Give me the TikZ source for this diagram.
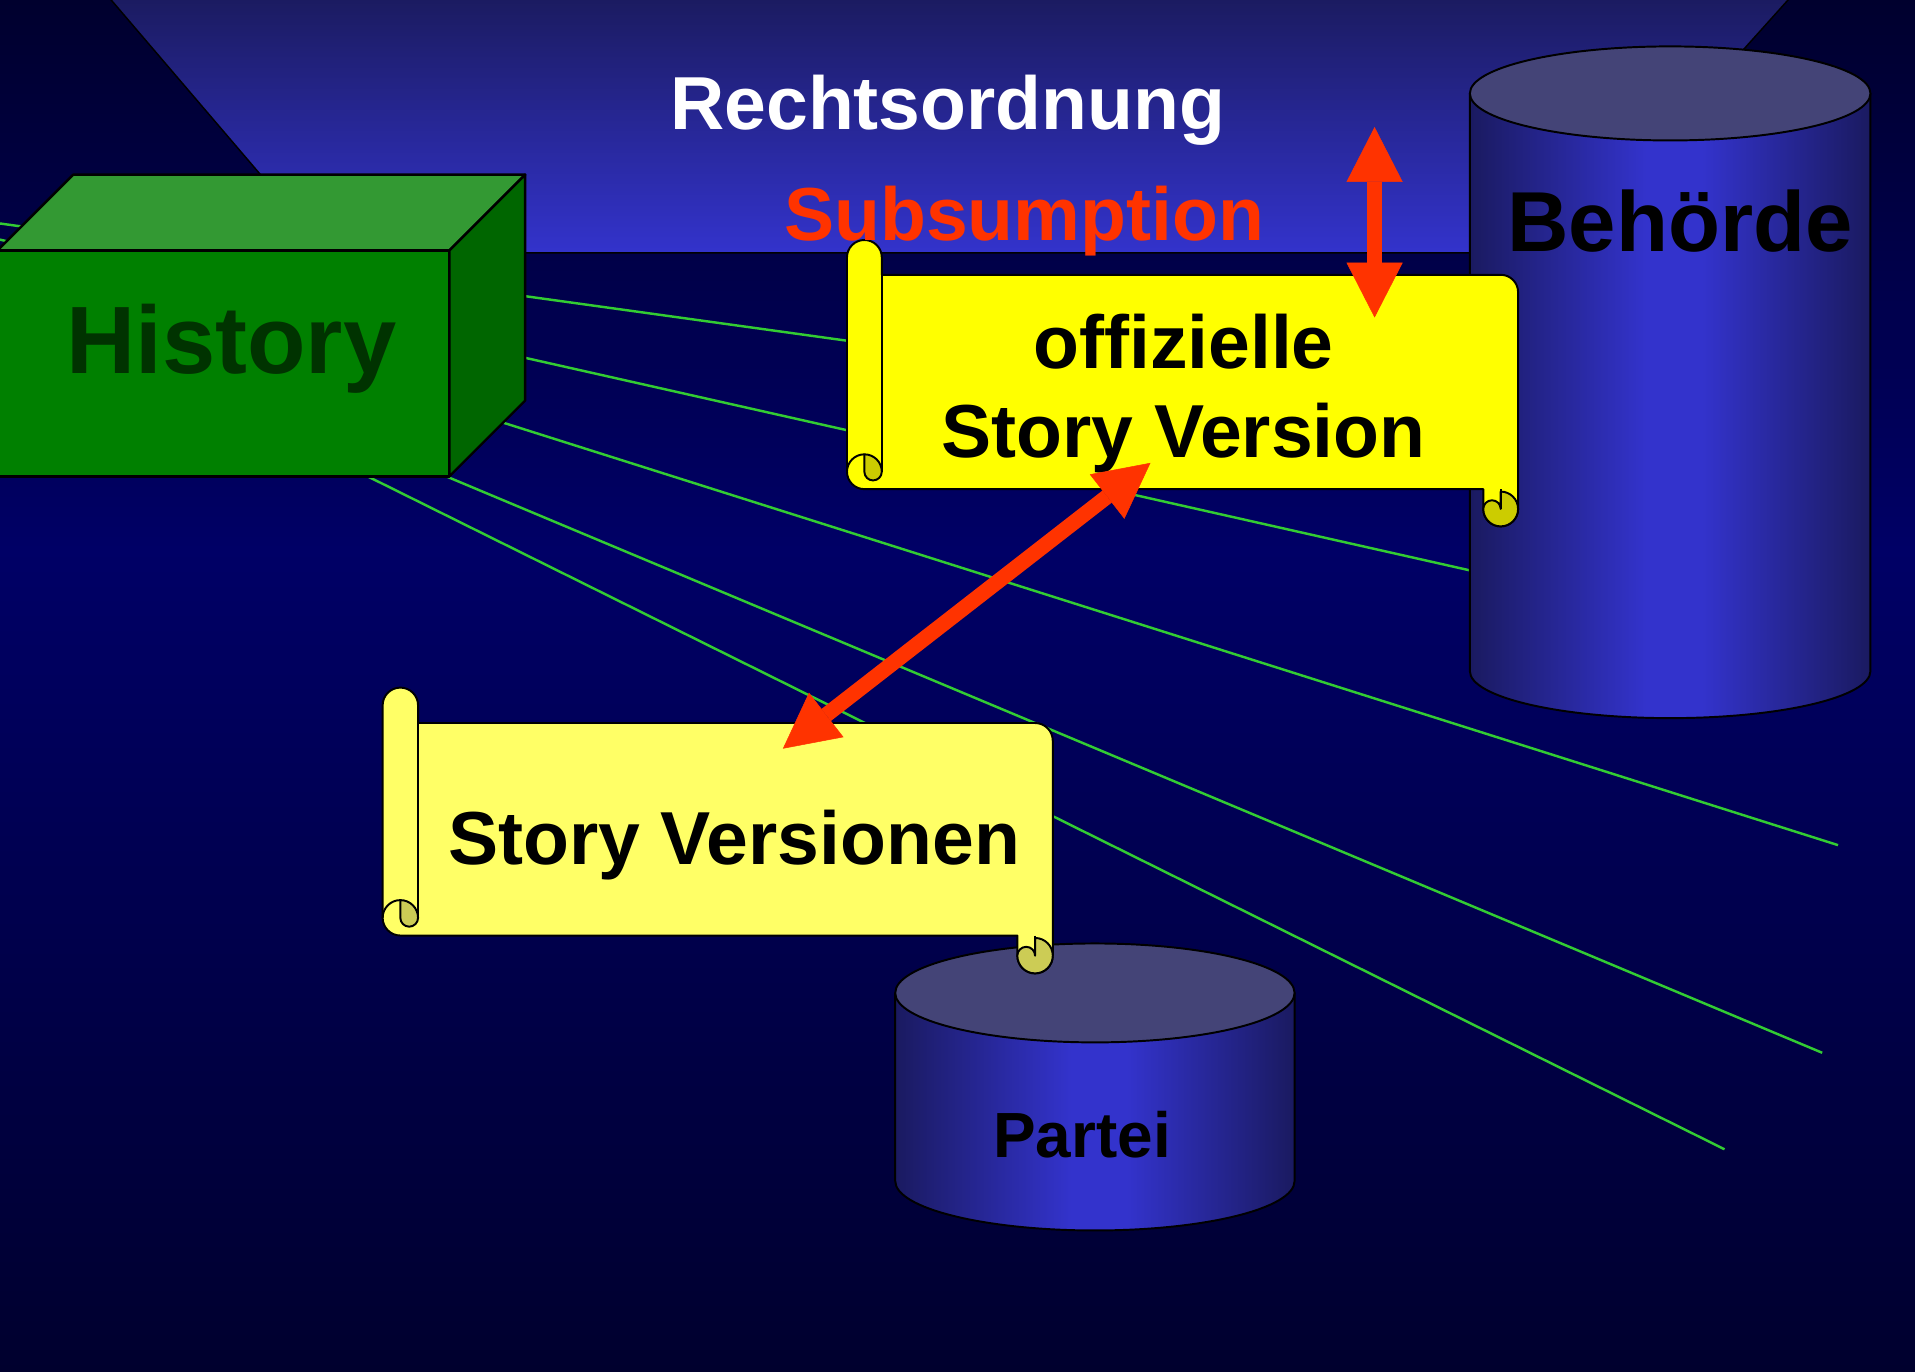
\documentclass[tikz,border=0pt]{standalone}
\usepackage{fontspec}
\setmainfont{Liberation Sans}
\usetikzlibrary{arrows.meta}
\definecolor{bgdark}{HTML}{00002E}
\definecolor{bgmid}{HTML}{000066}
\definecolor{skytop}{HTML}{1A1A5C}
\definecolor{skybot}{HTML}{3333CC}
\definecolor{cyldark}{HTML}{1A1A60}
\definecolor{cylbright}{HTML}{3333CC}
\definecolor{cyltop}{HTML}{444477}
\definecolor{gridgreen}{HTML}{33CC33}
\definecolor{boxfront}{HTML}{008000}
\definecolor{boxtop}{HTML}{339933}
\definecolor{boxside}{HTML}{006600}
\definecolor{boxtext}{HTML}{003300}
\definecolor{scrollA}{HTML}{FFFF00}
\definecolor{curlA}{HTML}{CCCC00}
\definecolor{scrollB}{HTML}{FFFF66}
\definecolor{curlB}{HTML}{CCCC55}
\definecolor{arrowred}{HTML}{FF3300}
\pgfdeclarehorizontalshading{cylshade}{100bp}{color(0bp)=(cyldark); color(25bp)=(cyldark); color(47bp)=(cylbright); color(54bp)=(cylbright); color(75bp)=(cyldark); color(100bp)=(cyldark)}
\tikzset{
  gridline/.style={draw=gridgreen, line width=2pt},
  outline/.style={draw=black, line width=1.6pt, line join=round},
  redarrow/.style={draw=arrowred, line width=12.5pt,
    arrows={Triangle[length=45pt,width=46pt,line width=0.4pt]-Triangle[length=45pt,width=46pt,line width=0.4pt]}},
  lbl/.style={anchor=base, inner sep=0pt},
  fA/.style={font={\fontsize{61.5}{73}\selectfont\bfseries}},
  fB/.style={font={\fontsize{69.7}{80}\selectfont\bfseries}},
  fC/.style={font={\fontsize{78.4}{90}\selectfont\bfseries}},
  fD/.style={font={\fontsize{52.3}{62}\selectfont\bfseries}}
}
\newcommand\cyldraw[5]{%
  \shadedraw[shading=cylshade, outline] (#1-#2,#3) -- (#1-#2,#4)
    arc[start angle=180,end angle=360,x radius=#2pt,y radius=#5pt] -- (#1+#2,#3) -- cycle;
  \filldraw[fill=cyltop, outline] (#1,#3) ellipse[x radius=#2pt,y radius=#5pt];
}
\newcommand\scrolldraw[7]{%
  \pgfmathsetmacro\scL{#1}%
  \pgfmathsetmacro\scR{#2}%
  \pgfmathsetmacro\scT{#3}%
  \pgfmathsetmacro\scB{#4}%
  \pgfmathsetmacro\scr{#5}%
  \pgfmathsetmacro\scc{2*#5}%
  \pgfmathsetmacro\sch{#5/2}%
  \pgfmathsetmacro\scd{2}%
  \filldraw[fill=#6, outline]
    (\scL,\scB-\scr) -- (\scL,\scT-\scc+\scr)
    arc[start angle=180,end angle=0,radius=\scr pt]
    -- (\scL+\scc,\scT) -- (\scR-\scr,\scT)
    arc[start angle=90,end angle=0,radius=\scr pt]
    -- (\scR,\scB+\scr+\scd)
    arc[start angle=0,end angle=-180,radius=\scr pt]
    -- (\scR-\scc,\scB) -- (\scL+\scr,\scB)
    arc[start angle=270,end angle=180,radius=\scr pt]
    -- cycle;
  \draw[outline] (\scL+\scc,\scT) -- (\scL+\scc,\scB-\scr);
  \filldraw[fill=#7, outline] (\scL+\scr,\scB-\scc)
    arc[start angle=90,end angle=0,radius=\scr pt]
    arc[start angle=0,end angle=-180,radius=\sch pt] -- cycle;
  \draw[outline] (\scL+\scr,\scB-\scc) arc[start angle=90,end angle=180,radius=\scr pt];
  \filldraw[fill=#7, outline] (\scR-\scr,\scB+\scd)
    arc[start angle=90,end angle=-180,radius=\scr pt]
    arc[start angle=180,end angle=0,radius=\sch pt] -- cycle;
  \draw[outline] (\scR-\scr,\scB) -- (\scR-\scr,\scB+\scd+\scr);
}
\begin{document}
\begin{tikzpicture}[x=1pt,y=-1pt]
\useasboundingbox (0,0) rectangle (1568,1123);
\clip (0,0) rectangle (1568,1123);
% background
\shade[top color=bgdark, bottom color=bgmid] (0,0) rectangle (1568,451);
\shade[top color=bgmid, bottom color=bgdark] (0,450) rectangle (1568,1123);
% sky panel
\shadedraw[top color=skytop, bottom color=skybot, draw=black, line width=1.2pt]
  (82.5,-10) -- (1473,-10) -- (1278,207) -- (268,207) -- cycle;
% green perspective lines
\draw[gridline] (-5,182.3) -- (1250,356);
\draw[gridline] (-5,195.1) -- (1215,469.6);
\draw[gridline] (-5,214.1) -- (1505,692);
\draw[gridline] (-5,234.9) -- (1492,862);
\draw[gridline] (-5,238.3) -- (1412,941);
% History box
\filldraw[fill=boxfront, outline, line width=2pt] (-2,205) rectangle (368,390);
\filldraw[fill=boxtop, outline, line width=2pt] (-2,205) -- (60,143) -- (430,143) -- (368,205) -- cycle;
\filldraw[fill=boxside, outline, line width=2pt] (368,205) -- (430,143) -- (430,328) -- (368,390) -- cycle;
% cylinders
\cyldraw{1367.5}{164}{76.5}{549.5}{38.5}
\cyldraw{896.5}{163.5}{813}{967}{40.5}
% scrolls
\scrolldraw{693.5}{1243}{225}{400.5}{14.25}{scrollA}{curlA}
\scrolldraw{313.3}{862}{592}{766}{14.5}{scrollB}{curlB}
% texts
\node[lbl, fA, text=white] (recht) at (776,105.7) {Rechtsordnung};
\node[lbl, fA, text=arrowred] (subs) at (838.5,197) {Subsumption};
\node[lbl, fC, text=boxtext] (hist) at (189.5,306) {History};
\node[lbl, fB, text=black] (behoerde) at (1375.5,206) {Behörde};
\node[lbl, fD, text=black] (partei) at (886,948) {Partei};
\node[lbl, fA, text=black] (offA) at (969,301.5) {offizielle};
\node[lbl, fA, text=black] (offB) at (969,375) {Story Version};
\node[lbl, fA, text=black] (versionen) at (601,708) {Story Versionen};
% arrows
\coordinate (vt) at (1125.5,104);
\coordinate (vb) at (1125.5,260);
\coordinate (dt) at (942,379);
\coordinate (db) at (641,613);
\draw[redarrow] (vt) -- (vb);
\draw[redarrow] (db) -- (dt);
\end{tikzpicture}
\end{document}
